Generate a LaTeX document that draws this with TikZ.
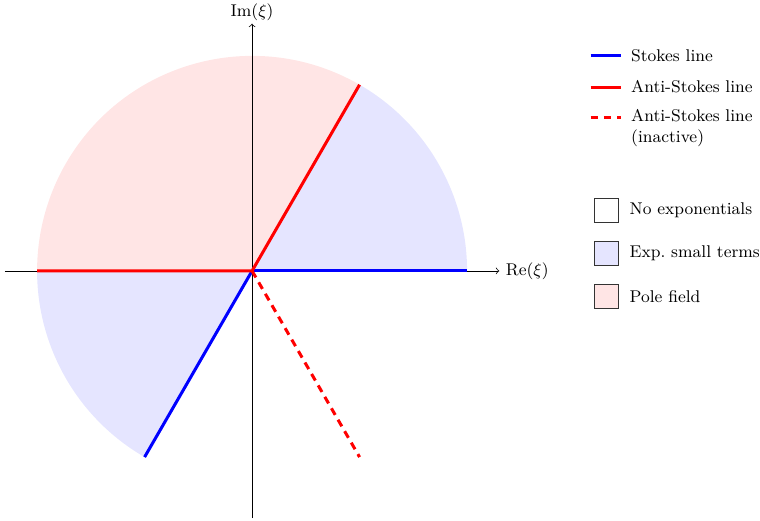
\documentclass[tikz,border=0pt]{standalone}
\usetikzlibrary{positioning}

\begin{document}
\begin{tikzpicture}[font=\small,
stokes/.style={blue,ultra thick},
astokes/.style={red,ultra thick},
inactive/.style={red,ultra thick,dash pattern=on 4pt off 3pt},
keybox/.style={draw=black!80,minimum size=0.45cm,inner sep=0pt},
lbl/.style={anchor=west,align=left}]
\useasboundingbox (-4.69,-4.65) rectangle (9.45,5.04);
% regions
\fill[red!10] (0,0) -- (60:4) arc (60:180:4) -- cycle;
\fill[blue!10] (0,0) -- (0:4) arc (0:60:4) -- cycle;
\fill[blue!10] (0,0) -- (180:4) arc (180:240:4) -- cycle;
% axes
\coordinate (o) at (0,0);
\draw[->] (-4.6,0) -- (4.6,0) node[right] (re) {$\mathrm{Re}(\xi)$};
\draw[->] (0,-4.6) -- (0,4.6) node[above,inner sep=1.5pt] (im) {$\mathrm{Im}(\xi)$};
% lines
\draw[stokes] (o) -- (0:4);
\draw[stokes] (o) -- (240:4);
\draw[astokes] (180:4) -- (o) -- (60:4);
\draw[inactive] (o) -- (-60:4);
% legend
\node[lbl] (kstokes) at (6.93,4) {Stokes line};
\node[lbl] (kanti) at (6.93,3.42) {Anti-Stokes line};
\node[lbl] (kinact) at (6.93,2.66) {Anti-Stokes line\\(inactive)};
\draw[stokes] ([xshift=-0.63cm]kstokes.west) -- ++(0.57,0);
\draw[astokes] ([xshift=-0.63cm]kanti.west) -- ++(0.57,0);
\draw[inactive] ([xshift=-0.63cm,yshift=0.19cm]kinact.west) -- ++(0.57,0);
\node[keybox] (knone) at (6.59,1.13) {};
\node[keybox,fill=blue!10] (ksmall) at (6.59,0.33) {};
\node[keybox,fill=red!10] (kpole) at (6.59,-0.48) {};
\node[lbl,right=0.08cm of knone] (tnone) {No exponentials};
\node[lbl,right=0.08cm of ksmall] (tsmall) {Exp.\ small terms};
\node[lbl,right=0.08cm of kpole] (tpole) {Pole field};
\end{tikzpicture}
\end{document}
